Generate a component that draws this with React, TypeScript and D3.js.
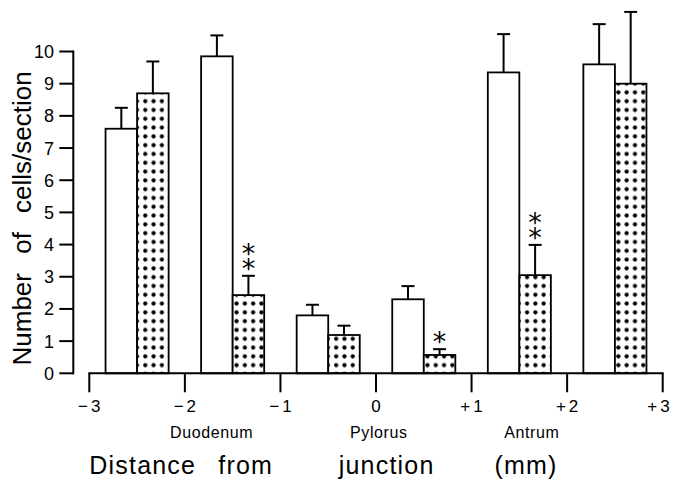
import React from 'react';
import * as d3 from 'd3';

// group centres along the distance axis (mm)
const positions = [-2.5, -1.5, -0.5, 0.5, 1.5, 2.5];
// open bars
const controlMeans = [7.6, 9.85, 1.8, 2.3, 9.35, 9.6];
const controlErrors = [0.65, 0.65, 0.33, 0.41, 1.19, 1.25];
// dotted bars
const treatedMeans = [8.7, 2.43, 1.19, 0.57, 3.05, 9.0];
const treatedErrors = [0.99, 0.6, 0.29, 0.18, 0.94, 2.23];
const significance = ['', '**', '', '*', '**', ''];

const xTicks = [-3, -2, -1, 0, 1, 2, 3];
const xTickLabels = ['\u22123', '\u22122', '\u22121', '0', '+1', '+2', '+3'];
const yTicks = [0, 1, 2, 3, 4, 5, 6, 7, 8, 9, 10];
const regionNames = ['Duodenum', 'Pylorus', 'Antrum'];
const regionCenters = [-1.72, 0.03, 1.63];
const titleWords = ['Distance', 'from', 'junction', '(mm)'];
const titleWordStarts = [-3.0, -1.65, -0.39, 1.24];

const W = 674;
const H = 479;

export default function App() {
  const x = d3.scaleLinear().domain([-3, 3]).range([89.3, 662.7]);
  const y = d3.scaleLinear().domain([0, 10]).range([373.3, 51.5]);
  const barW = x(0.33) - x(0);
  const yAxisX = 73.3;

  const capHalf = 6.5;

  const errorBar = (cx: number, v: number, e: number, key: string) => (
    <g key={key} stroke="#000" strokeWidth={2}>
      <line x1={cx} x2={cx} y1={y(v)} y2={y(v + e)} />
      <line x1={cx - capHalf} x2={cx + capHalf} y1={y(v + e)} y2={y(v + e)} />
    </g>
  );

  return (
    <svg
      width={W}
      height={H}
      style={{ position: 'fixed', left: 0, top: 0, background: '#fff' }}
      fontFamily="'Liberation Sans', Arial, sans-serif"
    >
      <defs>
        <pattern id="dots" patternUnits="userSpaceOnUse" width={8.3} height={8.8}>
          <rect width={8.3} height={8.8} fill="#fff" />
          <circle cx={4.15} cy={4.4} r={2.1} fill="#000" />
        </pattern>
      </defs>

      {/* y axis */}
      <line x1={yAxisX} x2={yAxisX} y1={y(10) - 1} y2={y(0) + 1} stroke="#000" strokeWidth={2} />
      {yTicks.map((t) => (
        <g key={t}>
          <line x1={yAxisX - 14} x2={yAxisX} y1={y(t)} y2={y(t)} stroke="#000" strokeWidth={2} />
          <text x={54} y={y(t) + 6.5} textAnchor="end" fontSize={18}>
            {t}
          </text>
        </g>
      ))}
      <text
        transform={`translate(31, ${y(5) + 6}) rotate(-90)`}
        textAnchor="middle"
        fontSize={26}
        wordSpacing={12}
      >
        Number of cells/section
      </text>

      {/* bars */}
      {positions.map((p, i) => {
        const cx = x(p);
        const top = y(treatedMeans[i] + treatedErrors[i]);
        const stars = significance[i];
        return (
          <g key={p}>
            <rect
              x={cx - barW}
              y={y(controlMeans[i])}
              width={barW}
              height={y(0) - y(controlMeans[i])}
              fill="#fff"
              stroke="#000"
              strokeWidth={1.8}
            />
            <rect
              x={cx}
              y={y(treatedMeans[i])}
              width={barW}
              height={y(0) - y(treatedMeans[i])}
              fill="url(#dots)"
              stroke="#000"
              strokeWidth={1.8}
            />
            {errorBar(cx - barW / 2, controlMeans[i], controlErrors[i], 'c' + i)}
            {errorBar(cx + barW / 2, treatedMeans[i], treatedErrors[i], 't' + i)}
            {stars.length === 1 && (
              <text
                x={cx + barW / 2}
                y={top + 2}
                textAnchor="middle"
                fontFamily="'DejaVu Sans', sans-serif"
                fontSize={27}
              >
                {stars}
              </text>
            )}
            {stars.length > 1 && (
              <text
                x={cx + barW / 2}
                y={top - 38}
                fontFamily="'DejaVu Sans', sans-serif"
                fontSize={27}
                letterSpacing={-16}
                style={{ writingMode: 'vertical-rl', textOrientation: 'upright' }}
              >
                {stars}
              </text>
            )}
          </g>
        );
      })}

      {/* x axis */}
      <line x1={x(-3) - 1} x2={x(3) + 1} y1={y(0)} y2={y(0)} stroke="#000" strokeWidth={2} />
      {xTicks.map((t, i) => (
        <g key={t}>
          <line x1={x(t)} x2={x(t)} y1={y(0)} y2={y(0) + 19} stroke="#000" strokeWidth={2} />
          <text
            x={Math.min(x(t) + 1.5, W - 14)}
            y={412}
            textAnchor="middle"
            fontSize={17}
            letterSpacing={3}
          >
            {xTickLabels[i]}
          </text>
        </g>
      ))}
      {regionNames.map((r, i) => (
        <text key={r} x={x(regionCenters[i])} y={437.5} textAnchor="middle" fontSize={16} letterSpacing={0.6}>
          {r}
        </text>
      ))}
      <text y={474} fontSize={25} letterSpacing={1.2}>
        {titleWords.map((w, i) => (
          <tspan key={w} x={x(titleWordStarts[i])}>
            {w}
          </tspan>
        ))}
      </text>
    </svg>
  );
}
